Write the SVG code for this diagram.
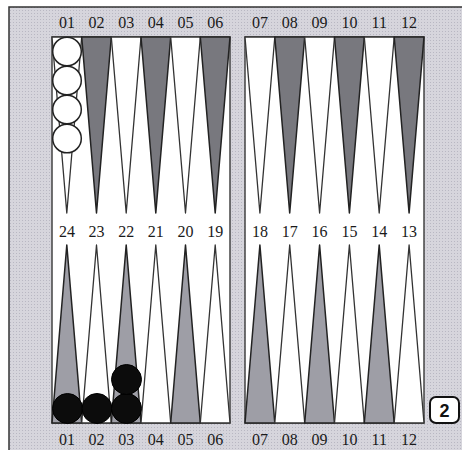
<svg xmlns="http://www.w3.org/2000/svg" width="462" height="450" viewBox="0 0 462 450">
<defs>
<pattern id="stip" width="3" height="3" patternUnits="userSpaceOnUse">
<rect width="3" height="3" fill="#d6d5dc"/>
<rect x="1" y="1" width="1" height="1" fill="#b8b7c2"/>
</pattern>
</defs>
<style>
.lbl{font-family:"Liberation Serif","Times New Roman",serif;font-size:16px;fill:#1a1a1a;text-anchor:middle}
.panel{fill:#fff;stroke:#444;stroke-width:1.5}
.dk{fill:#78787e;stroke:#222;stroke-width:1.5;stroke-linejoin:round}
.dkb{fill:#9e9ea6;stroke:#222;stroke-width:1.5;stroke-linejoin:round}
.lt{fill:#fff;stroke:#333;stroke-width:1.3;stroke-linejoin:round}
.wc{fill:#fff;stroke:#222;stroke-width:1.5}
.bc{fill:#0c0c0c;stroke:#000;stroke-width:1}
</style>
<rect x="0" y="0" width="462" height="450" fill="#fff"/>
<rect id="frame" x="9" y="7" width="460" height="450" fill="url(#stip)" stroke="#333" stroke-width="1.5"/>
<g id="board">
<rect class="panel" x="52" y="37" width="178" height="386"/>
<rect class="panel" x="245" y="37" width="179" height="386"/>
</g>
<g id="points-top">
<polygon class="lt" points="52,37 81.7,37 66.8,213"/>
<polygon class="dk" points="81.7,37 111.3,37 96.5,213"/>
<polygon class="lt" points="111.3,37 141,37 126.2,213"/>
<polygon class="dk" points="141,37 170.7,37 155.8,213"/>
<polygon class="lt" points="170.7,37 200.3,37 185.5,213"/>
<polygon class="dk" points="200.3,37 230,37 215.2,213"/>
<polygon class="lt" points="245,37 274.8,37 259.9,213"/>
<polygon class="dk" points="274.8,37 304.7,37 289.7,213"/>
<polygon class="lt" points="304.7,37 334.5,37 319.6,213"/>
<polygon class="dk" points="334.5,37 364.3,37 349.4,213"/>
<polygon class="lt" points="364.3,37 394.2,37 379.2,213"/>
<polygon class="dk" points="394.2,37 424,37 409.1,213"/>
</g>
<g id="points-bottom">
<polygon class="dkb" points="52,423 81.7,423 66.8,245"/>
<polygon class="lt" points="81.7,423 111.3,423 96.5,245"/>
<polygon class="dkb" points="111.3,423 141,423 126.2,245"/>
<polygon class="lt" points="141,423 170.7,423 155.8,245"/>
<polygon class="dkb" points="170.7,423 200.3,423 185.5,245"/>
<polygon class="lt" points="200.3,423 230,423 215.2,245"/>
<polygon class="dkb" points="245,423 274.8,423 259.9,245"/>
<polygon class="lt" points="274.8,423 304.7,423 289.7,245"/>
<polygon class="dkb" points="304.7,423 334.5,423 319.6,245"/>
<polygon class="lt" points="334.5,423 364.3,423 349.4,245"/>
<polygon class="dkb" points="364.3,423 394.2,423 379.2,245"/>
<polygon class="lt" points="394.2,423 424,423 409.1,245"/>
</g>
<g id="white-checkers">
<circle class="wc" cx="67" cy="51.5" r="14.3"/>
<circle class="wc" cx="67" cy="80.5" r="14.3"/>
<circle class="wc" cx="67" cy="109.5" r="14.3"/>
<circle class="wc" cx="67" cy="138.5" r="14.3"/>
</g>
<g id="black-checkers">
<circle class="bc" cx="67.5" cy="408.5" r="15"/>
<circle class="bc" cx="97" cy="408.5" r="15"/>
<circle class="bc" cx="126.5" cy="408.5" r="15"/>
<circle class="bc" cx="126.5" cy="379.5" r="15"/>
</g>
<g id="labels-top">
<text class="lbl" x="67" y="28">01</text>
<text class="lbl" x="96.5" y="28">02</text>
<text class="lbl" x="126.2" y="28">03</text>
<text class="lbl" x="155.8" y="28">04</text>
<text class="lbl" x="185.5" y="28">05</text>
<text class="lbl" x="215.2" y="28">06</text>
<text class="lbl" x="259.9" y="28">07</text>
<text class="lbl" x="289.7" y="28">08</text>
<text class="lbl" x="319.6" y="28">09</text>
<text class="lbl" x="349.4" y="28">10</text>
<text class="lbl" x="379.2" y="28">11</text>
<text class="lbl" x="409.1" y="28">12</text>
</g>
<g id="labels-mid">
<text class="lbl" x="67" y="237">24</text>
<text class="lbl" x="96.5" y="237">23</text>
<text class="lbl" x="126.2" y="237">22</text>
<text class="lbl" x="155.8" y="237">21</text>
<text class="lbl" x="185.5" y="237">20</text>
<text class="lbl" x="215.2" y="237">19</text>
<text class="lbl" x="259.9" y="237">18</text>
<text class="lbl" x="289.7" y="237">17</text>
<text class="lbl" x="319.6" y="237">16</text>
<text class="lbl" x="349.4" y="237">15</text>
<text class="lbl" x="379.2" y="237">14</text>
<text class="lbl" x="409.1" y="237">13</text>
</g>
<g id="labels-bottom">
<text class="lbl" x="67" y="445">01</text>
<text class="lbl" x="96.5" y="445">02</text>
<text class="lbl" x="126.2" y="445">03</text>
<text class="lbl" x="155.8" y="445">04</text>
<text class="lbl" x="185.5" y="445">05</text>
<text class="lbl" x="215.2" y="445">06</text>
<text class="lbl" x="259.9" y="445">07</text>
<text class="lbl" x="289.7" y="445">08</text>
<text class="lbl" x="319.6" y="445">09</text>
<text class="lbl" x="349.4" y="445">10</text>
<text class="lbl" x="379.2" y="445">11</text>
<text class="lbl" x="409.1" y="445">12</text>
</g>
<g id="cube">
<rect x="430" y="397" width="29" height="26" rx="6" fill="#fff" stroke="#111" stroke-width="2"/>
<text x="444.5" y="416.5" font-family="Liberation Sans, Arial, sans-serif" font-size="18" font-weight="bold" fill="#111" text-anchor="middle">2</text>
</g>
</svg>
